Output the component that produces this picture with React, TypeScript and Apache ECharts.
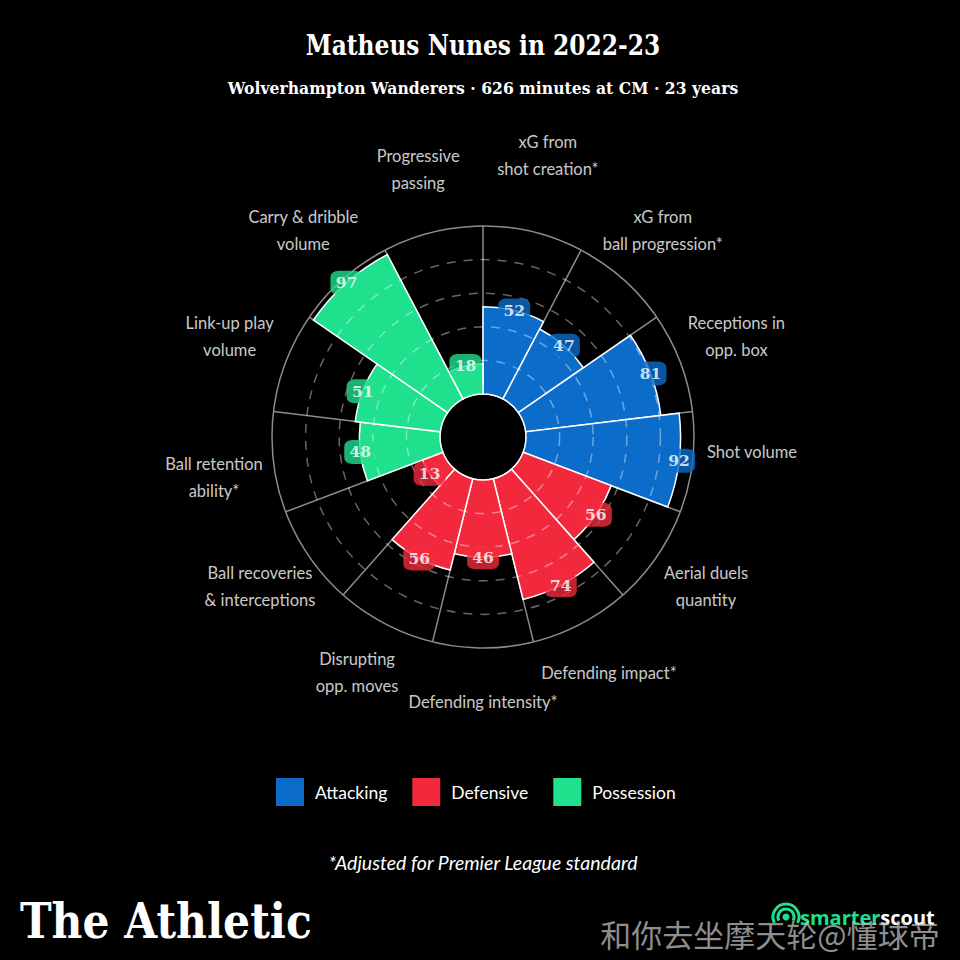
import React, { useEffect, useRef } from "react";
import * as echarts from "echarts";

const TITLE = "Matheus Nunes in 2022-23";
const SUBTITLE = "Wolverhampton Wanderers · 626 minutes at CM · 23 years";
const FOOTNOTE = "*Adjusted for Premier League standard";
const WATERMARK = "和你去坐摩天轮@懂球帝";

const CATEGORIES = [
  "xG from\nshot creation*",
  "xG from\nball progression*",
  "Receptions in\nopp. box",
  "Shot volume",
  "Aerial duels\nquantity",
  "Defending impact*",
  "Defending intensity*",
  "Disrupting\nopp. moves",
  "Ball recoveries\n& interceptions",
  "Ball retention\nability*",
  "Link-up play\nvolume",
  "Carry & dribble\nvolume",
  "Progressive\npassing",
];
const VALUES = [52, 47, 81, 92, 56, 74, 46, 56, 13, 48, 51, 97, 18];
const GROUPS = [
  "Attacking", "Attacking", "Attacking", "Attacking",
  "Defensive", "Defensive", "Defensive", "Defensive", "Defensive",
  "Possession", "Possession", "Possession", "Possession",
];
const GROUP_NAMES = ["Attacking", "Defensive", "Possession"];
const GROUP_COLORS: Record<string, string> = {
  Attacking: "#0b6cc9",
  Defensive: "#f2293d",
  Possession: "#1fe08d",
};
const RADIUS_MAX = 100;
const RADIUS_STEP = 20;
// small per-label layout nudges (px) for the category names
const LABEL_NUDGE: Record<number, [number, number]> = {
  0: [0, -14],
  3: [0, -14],
  6: [0, -2],
  9: [0, 12],
};

export default function App() {
  const ref = useRef<HTMLDivElement>(null);
  useEffect(() => {
    if (!ref.current) return;
    const chart = echarts.init(ref.current, undefined, { renderer: "svg" });
    const gridC = "#8c8c8c";
    const dashC = "rgba(255,255,255,0.4)";
    const option: any = {
      animation: false,
      backgroundColor: "#000",
      polar: [
        { center: [483, 437], radius: [43, 211] },
        { center: [483, 433], radius: [0, 271] },
      ],
      angleAxis: [
        {
          polarIndex: 0,
          type: "category",
          data: CATEGORIES,
          startAngle: 90,
          clockwise: true,
          boundaryGap: true,
          axisLine: { show: true, lineStyle: { color: gridC, width: 1.5 } },
          axisTick: { show: false },
          axisLabel: { show: false },
          splitLine: { show: true, lineStyle: { color: gridC, width: 1.5 } },
          z: 0,
        },
        {
          polarIndex: 1,
          type: "category",
          data: CATEGORIES,
          startAngle: 90,
          clockwise: true,
          boundaryGap: true,
          axisLine: { show: false },
          axisTick: { show: false },
          axisLabel: { show: false },
          splitLine: { show: false },
        },
      ],
      radiusAxis: [
        {
          polarIndex: 0,
          type: "value",
          min: 0,
          max: RADIUS_MAX,
          interval: RADIUS_STEP,
          axisLine: { show: false },
          axisTick: { show: false },
          axisLabel: { show: false },
          splitLine: {
            show: true,
            lineStyle: {
              color: ["transparent", dashC, dashC, dashC, dashC, "transparent"],
              type: [9, 8],
              width: 1.5,
            },
          },
          z: 3,
        },
        {
          polarIndex: 1,
          type: "value",
          min: 0,
          max: 1,
          axisLine: { show: false },
          axisTick: { show: false },
          axisLabel: { show: false },
          splitLine: { show: false },
        },
      ],
      legend: {
        data: GROUP_NAMES,
        left: 271,
        top: 773,
        itemWidth: 28,
        itemHeight: 28,
        itemGap: 25,
        icon: "rect",
        itemStyle: { borderWidth: 0 },
        textStyle: {
          color: "#fff",
          fontFamily: "Lato",
          fontSize: 17.5,
          padding: [0, 0, 0, 6],
        },
      },
      series: [
        ...GROUP_NAMES.map((g) => ({
          type: "bar",
          name: g,
          coordinateSystem: "polar",
          polarIndex: 0,
          stack: "v",
          barCategoryGap: "0%",
          data: VALUES.map((v, i) => (GROUPS[i] === g ? v : "-")),
          itemStyle: { color: GROUP_COLORS[g], borderColor: "#fff", borderWidth: 1.5 },
          z: 2,
        })),
        {
          type: "scatter",
          coordinateSystem: "polar",
          polarIndex: 0,
          symbol: "roundRect",
          symbolSize: [32, 24],
          silent: true,
          data: VALUES.map((v, i) => ({
            value: [v, i],
            itemStyle: { color: GROUP_COLORS[GROUPS[i]] },
          })),
          label: {
            show: true,
            position: "inside",
            formatter: (p: any) => String(p.value[0]),
            color: "#fff",
            fontFamily: "DejaVu Serif",
            fontWeight: "bold",
            fontSize: 15.5,
          },
          z: 10,
        },
        {
          type: "scatter",
          coordinateSystem: "polar",
          polarIndex: 1,
          symbolSize: 1,
          silent: true,
          itemStyle: { color: "transparent" },
          data: CATEGORIES.map((c, i) => ({
            value: [1, i],
            label: { offset: LABEL_NUDGE[i] || [0, 0] },
          })),
          label: {
            show: true,
            position: "inside",
            formatter: (p: any) => CATEGORIES[p.dataIndex],
            color: "#fff",
            fontFamily: "Lato",
            fontSize: 16.5,
            lineHeight: 27,
            align: "center",
          },
          z: 10,
        },
      ],
      graphic: [
        {
          type: "text",
          x: 483,
          y: 45,
          scaleX: 0.865,
          style: {
            text: TITLE,
            fill: "#fff",
            font: 'bold 27px "DejaVu Serif"',
            textAlign: "center",
            textVerticalAlign: "middle",
          },
        },
        {
          type: "text",
          x: 483,
          y: 88,
          scaleX: 0.92,
          style: {
            text: SUBTITLE,
            fill: "#fff",
            font: 'bold 17px "DejaVu Serif"',
            textAlign: "center",
            textVerticalAlign: "middle",
          },
        },
        {
          type: "text",
          x: 483,
          y: 862,
          style: {
            text: FOOTNOTE,
            fill: "#fff",
            font: 'italic 19.5px "Lato"',
            textAlign: "center",
            textVerticalAlign: "middle",
          },
        },
        {
          type: "text",
          x: 20,
          y: 921,
          scaleX: 0.885,
          style: {
            text: "The Athletic",
            fill: "#fff",
            font: 'bold 48px "DejaVu Serif"',
            textAlign: "left",
            textVerticalAlign: "middle",
          },
        },
        {
          type: "group",
          x: 786,
          y: 917,
          children: [
            { type: "circle", shape: { cx: 0, cy: 0, r: 3.5 }, style: { fill: "#1fe08d" } },
            {
              type: "arc",
              shape: { cx: 0, cy: 0, r: 8, startAngle: Math.PI * 0.85, endAngle: Math.PI * 2.15 },
              style: { stroke: "#1fe08d", lineWidth: 3, fill: "none" },
            },
            {
              type: "arc",
              shape: { cx: 0, cy: 0, r: 13, startAngle: Math.PI * 0.85, endAngle: Math.PI * 2.15 },
              style: { stroke: "#1fe08d", lineWidth: 3, fill: "none" },
            },
          ],
        },
        {
          type: "text",
          x: 800,
          y: 917,
          style: {
            text: "{a|smarter}{b|scout}",
            textVerticalAlign: "middle",
            rich: {
              a: { fill: "#1fe08d", font: 'bold 20px "Open Sans"' },
              b: { fill: "#fff", font: 'bold 20px "Open Sans"' },
            },
          },
        },
        {
          type: "text",
          x: 770,
          y: 933,
          style: {
            text: WATERMARK,
            fill: "rgba(190,190,190,0.75)",
            font: '31px "Noto Sans CJK SC"',
            textAlign: "center",
            textVerticalAlign: "middle",
          },
        },
      ],
    };
    chart.setOption(option);
    return () => chart.dispose();
  }, []);
  return (
    <div
      ref={ref}
      style={{ position: "fixed", left: 0, top: 0, width: 960, height: 960, background: "#000" }}
    />
  );
}
